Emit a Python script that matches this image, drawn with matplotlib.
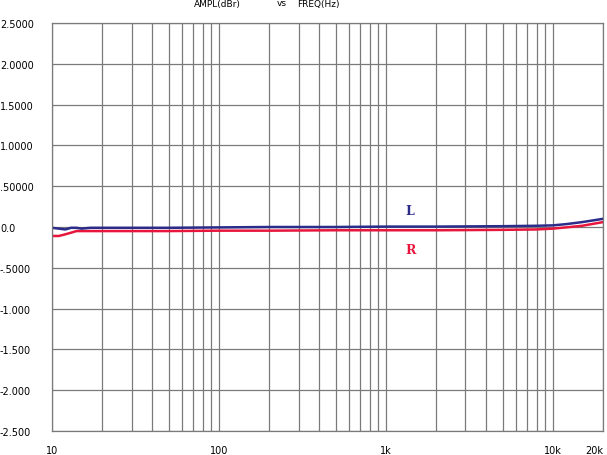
import numpy as np
import matplotlib
matplotlib.use("Agg")
import matplotlib.pyplot as plt
from matplotlib.ticker import NullFormatter

# frequency response
freq = [10, 11, 12, 13, 14, 15, 17, 20, 30, 50, 100, 200, 500, 1000, 2000,
        5000, 8000, 10000, 12000, 15000, 20000]
amp_l = [-0.01, -0.02, -0.03, -0.01, -0.01, -0.02, -0.01, -0.01, -0.01, -0.01,
         -0.005, 0.0, 0.0, 0.005, 0.005, 0.01, 0.015, 0.02, 0.035, 0.06, 0.1]
amp_r = [-0.11, -0.11, -0.09, -0.07, -0.05, -0.05, -0.05, -0.05, -0.05, -0.05,
         -0.045, -0.045, -0.04, -0.04, -0.04, -0.035, -0.03, -0.02, -0.005, 0.015, 0.06]

y_ticks = [2.5, 2.0, 1.5, 1.0, 0.5, 0.0, -0.5, -1.0, -1.5, -2.0, -2.5]
y_labels = ["2.5000", "2.0000", "1.5000", "1.0000", ".50000", "0.0",
            "-.5000", "-1.000", "-1.500", "-2.000", "-2.500"]
x_ticks = [10, 100, 1000, 10000, 20000]
x_labels = ["10", "100", "1k", "10k", "20k"]

L_COLOR = "#2b2b8a"
R_COLOR = "#e8163c"
GRID = "#7a7a7a"

fig = plt.figure(figsize=(6.07, 4.56), dpi=100)
ax = fig.add_axes([52 / 607, 24 / 456, 551 / 607, 408 / 456])

ax.set_xscale("log")
ax.set_xlim(10, 20000)
ax.set_ylim(-2.5, 2.5)

# grid: vertical lines at every 1-2-..-9 step, horizontal every 0.5
minor = [m * d for d in (10, 100, 1000) for m in range(2, 10)]
ax.set_xticks(x_ticks)
ax.set_xticks(minor, minor=True)
ax.xaxis.set_minor_formatter(NullFormatter())
ax.set_xticklabels(x_labels)
ax.set_yticks(y_ticks)
ax.set_yticklabels(y_labels)

ax.grid(True, which="both", axis="x", color=GRID, lw=0.9)
ax.grid(True, which="major", axis="y", color=GRID, lw=0.9)
ax.set_axisbelow(True)

for s in ax.spines.values():
    s.set_color(GRID)
    s.set_linewidth(0.9)

ax.tick_params(which="both", length=0)
ax.tick_params(axis="x", pad=10, labelsize=7)
ax.tick_params(axis="y", pad=37.5, labelsize=7)
for t in ax.get_yticklabels():
    t.set_horizontalalignment("left")
ax.get_xticklabels()[-1].set_horizontalalignment("right")

ax.plot(freq, amp_r, color=R_COLOR, lw=1.8)
ax.plot(freq, amp_l, color=L_COLOR, lw=1.8)

ax.text(1400, 0.2, "L", color=L_COLOR, fontsize=9, fontweight="bold",
        family="DejaVu Serif", ha="center", va="center")
ax.text(1400, -0.27, "R", color=R_COLOR, fontsize=9, fontweight="bold",
        family="DejaVu Serif", ha="center", va="center")

fig.text(217 / 607, 1 - 4 / 456, "AMPL(dBr)", fontsize=6.5, ha="center", va="center")
fig.text(282 / 607, 1 - 4 / 456, "vs", fontsize=6.5, ha="center", va="center")
fig.text(318 / 607, 1 - 4 / 456, "FREQ(Hz)", fontsize=6.5, ha="center", va="center")

fig.savefig("out.png", dpi=100)
